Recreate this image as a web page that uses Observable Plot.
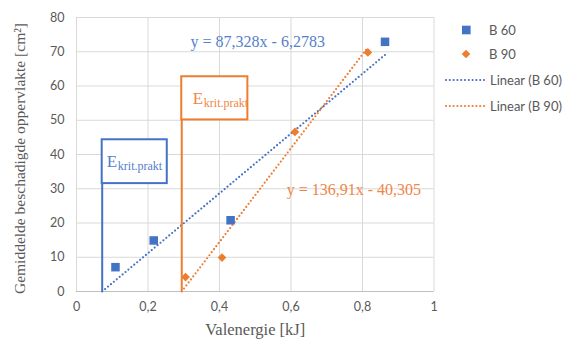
<!DOCTYPE html>
<html><head><meta charset="utf-8">
<script src="https://cdn.jsdelivr.net/npm/d3@7"></script>
<script src="https://cdn.jsdelivr.net/npm/@observablehq/plot@0.6"></script>
<style>
body{margin:0;background:#fff;}
#wrap{position:relative;width:574px;height:339px;}
#legend{position:absolute;left:0;top:0;}
</style>
</head><body>
<div id="wrap"><div id="chart"></div><svg id="legend" width="574" height="339"></svg></div>
<script>
// data
const seriesNames = ["B 60", "B 90"];
const b60X = [0.109, 0.216, 0.431, 0.863];
const b60Y = [7.1, 14.9, 20.8, 72.9];
const b90X = [0.305, 0.407, 0.611, 0.815];
const b90Y = [4.2, 9.9, 46.6, 69.8];
const b60Slope = 87.328, b60Intercept = -6.2783;
const b90Slope = 136.91, b90Intercept = -40.305;
const b60Eq = "y = 87,328x - 6,2783";
const b90Eq = "y = 136,91x - 40,305";
const xTicks = [0, 0.2, 0.4, 0.6, 0.8, 1];
const yTicks = [0, 10, 20, 30, 40, 50, 60, 70, 80];
const annoMain = "E", annoSub = "krit.prakt";

const BLUE = "#4472C4", ORANGE = "#ED7D31", GRAY = "#595959";
const BLUE_T = "#5580CA", ORANGE_T = "#EF8646";
const DASH = "0,3.8";
const pts60 = b60X.map((x, i) => ({x, y: b60Y[i]}));
const pts90 = b90X.map((x, i) => ({x, y: b90Y[i]}));
function trend(slope, icpt, xs) {
  const x0 = -icpt / slope, x1 = d3.max(xs);
  return [{x: x0, y: slope * x0 + icpt}, {x: x1, y: slope * x1 + icpt}];
}
const t60 = trend(b60Slope, b60Intercept, b60X);
const t90 = trend(b90Slope, b90Intercept, b90X);
const ann = [
  {x1: t60[0].x, x2: t60[0].x + 0.182, y1: 31.5, y2: 44.3, c: BLUE, t: BLUE_T, tx: t60[0].x + 0.013, ty: 36.4},
  {x1: t90[0].x, x2: t90[0].x + 0.185, y1: 50.1, y2: 62.7, c: ORANGE, t: ORANGE_T, tx: t90[0].x + 0.031, ty: 54.6}
];
const serif = "Liberation Serif, Times New Roman, serif";

const plot = Plot.plot({
  width: 574, height: 339,
  marginLeft: 76, marginRight: 140.5, marginTop: 17, marginBottom: 48,
  style: {fontFamily: "Lato, sans-serif", fontSize: "12.5px", color: GRAY, background: "transparent"},
  x: {domain: [0, 1]},
  y: {domain: [0, 80]},
  marks: [
    Plot.gridX(xTicks, {stroke: "#d9d9d9", strokeOpacity: 1}),
    Plot.gridY(yTicks, {stroke: "#d9d9d9", strokeOpacity: 1}),
    Plot.ruleY([0], {stroke: "#bfbfbf"}),
    Plot.axisX(xTicks, {tickSize: 0, tickPadding: 11, label: null, tickFormat: d => String(d).replace(".", ","), fontSize: 12.5}),
    Plot.axisY(yTicks, {tickSize: 0, tickPadding: 12, label: null, fontSize: 12.5}),
    Plot.line(t60, {x: "x", y: "y", stroke: BLUE, strokeWidth: 2.2, strokeDasharray: DASH, strokeLinecap: "round"}),
    Plot.line(t90, {x: "x", y: "y", stroke: ORANGE, strokeWidth: 2.2, strokeDasharray: DASH, strokeLinecap: "round"}),
    Plot.ruleX(ann, {x: "x1", y1: 0, y2: "y1", stroke: "c", strokeWidth: 2}),
    Plot.rect(ann, {x1: "x1", x2: "x2", y1: "y1", y2: "y2", fill: "white", stroke: "c", strokeWidth: 2}),
    Plot.text(ann, {x: "tx", y: "ty", text: () => annoMain, fill: "t", textAnchor: "start", lineAnchor: "bottom", fontSize: 17, fontFamily: serif}),
    Plot.text(ann, {x: "tx", y: "ty", text: () => annoSub, fill: "t", textAnchor: "start", lineAnchor: "bottom", fontSize: 12, fontFamily: serif, dx: 11, dy: 3}),
    Plot.dot(pts60, {x: "x", y: "y", symbol: "square", r: 4.8, fill: BLUE, stroke: null}),
    Plot.dot(pts90, {x: "x", y: "y", symbol: "diamond2", r: 3.9, fill: ORANGE, stroke: null}),
    Plot.text([b60Eq], {x: 0.319, y: 72.9, text: d => d, fill: BLUE_T, textAnchor: "start", fontSize: 16, fontFamily: serif}),
    Plot.text([b90Eq], {x: 0.588, y: 29.7, text: d => d, fill: ORANGE_T, textAnchor: "start", fontSize: 16, fontFamily: serif}),
    Plot.text(["Gemiddelde beschadigde oppervlakte [cm²]"], {frameAnchor: "left", text: d => d, rotate: -90, textAnchor: "middle", lineAnchor: "middle", dx: -56, dy: 4, fontSize: 15.5, fontFamily: serif, fill: GRAY}),
    Plot.text(["Valenergie [kJ]"], {frameAnchor: "bottom", text: d => d, textAnchor: "middle", lineAnchor: "middle", dy: 38, fontSize: 16.5, fontFamily: serif, fill: GRAY})
  ]
});
document.getElementById("chart").append(plot);

// legend
const lg = d3.select("#legend").style("font-family", "Lato, sans-serif").style("font-size", "13px");
const items = [
  {label: seriesNames[0], kind: "square", c: BLUE, y: 30},
  {label: seriesNames[1], kind: "diamond", c: ORANGE, y: 54},
  {label: "Linear (" + seriesNames[0] + ")", kind: "line", c: BLUE, y: 80},
  {label: "Linear (" + seriesNames[1] + ")", kind: "line", c: ORANGE, y: 106}
];
items.forEach(it => {
  if (it.kind === "square") lg.append("rect").attr("x", 462).attr("y", it.y - 4.3).attr("width", 8.6).attr("height", 8.6).attr("fill", it.c);
  else if (it.kind === "diamond") lg.append("path").attr("d", d3.symbol(d3.symbolDiamond2, Math.PI * 3.9 * 3.9)()).attr("transform", `translate(466,${it.y})`).attr("fill", it.c);
  else lg.append("line").attr("x1", 446).attr("x2", 484).attr("y1", it.y).attr("y2", it.y).attr("stroke", it.c).attr("stroke-width", 2.2).attr("stroke-linecap", "round").attr("stroke-dasharray", DASH);
  lg.append("text").attr("x", it.kind === "line" ? 490 : 489).attr("y", it.y).attr("dy", "0.35em").attr("fill", GRAY).text(it.label);
});
</script>
</body></html>
